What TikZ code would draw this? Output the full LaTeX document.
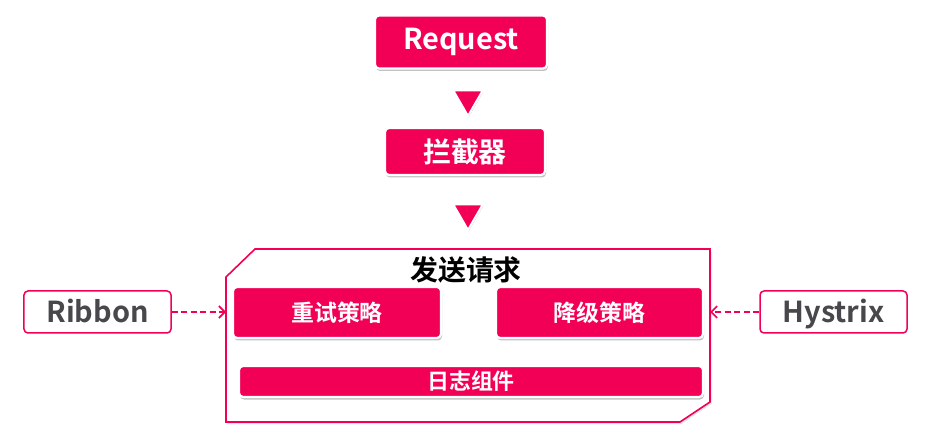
\documentclass[tikz,border=0pt]{standalone}
\usepackage{fontspec}
\setmainfont{Noto Sans CJK SC}[BoldFont={Noto Sans CJK SC Bold}]
\usetikzlibrary{shapes.geometric,arrows.meta,shadows}
\definecolor{hot}{RGB}{242,0,86}
\definecolor{txtgray}{RGB}{72,72,76}
\tikzset{
  redbox/.style={draw=white, line width=2.2bp, fill=hot, rounded corners=4bp,
    text=white, font=\bfseries, inner sep=0pt,
    drop shadow={shadow xshift=1bp, shadow yshift=-2.5bp, opacity=0.4, fill=black!60}},
  sidebox/.style={draw=hot, line width=1.5bp, fill=white, rounded corners=4bp,
    text=txtgray, font=\bfseries\fontsize{29}{32}\selectfont, inner sep=0pt,
    text height=28bp, text depth=6bp,
    minimum width=147bp, minimum height=42bp},
  tri/.style={regular polygon, regular polygon sides=3, shape border rotate=180,
    draw=white, line width=2bp, fill=hot, minimum size=34bp, inner sep=0pt,
    drop shadow={shadow xshift=0.6bp, shadow yshift=-1.5bp, opacity=0.3, fill=black!60}},
  dasharrow/.style={draw=hot, line width=1.6bp, dash pattern=on 6bp off 3.5bp,
    -{Straight Barb[length=6bp,width=12bp,line width=1.6bp]}}
}
\begin{document}
\begin{tikzpicture}[x=1bp,y=-1bp]
\useasboundingbox[fill=white] (0,0) rectangle (929,447);
% container
\path[draw=hot, line width=1.6bp, fill=white,
  drop shadow={shadow xshift=1.5bp, shadow yshift=-2bp, opacity=0.2, fill=black!50}]
  (255,249) -- (710,249) -- (710,402) -- (680,422) -- (226,422) -- (226,277) -- cycle;
\coordinate (cl) at (226,312);
\coordinate (cr) at (710,312);
\node[font=\bfseries\fontsize{28}{32}\selectfont, text=black] (title) at (466,270) {发送请求};
% top boxes
\node[redbox, minimum width=172bp, minimum height=53bp, font=\bfseries\fontsize{29}{32}\selectfont] (req) at (461,42) {Request};
\node[tri] (tri1) at (468,99) {};
\node[redbox, minimum width=160bp, minimum height=47bp, font=\bfseries\fontsize{28}{32}\selectfont] (lj) at (465,151.5) {拦截器};
\node[tri] (tri2) at (468,213) {};
% inner boxes
\node[redbox, minimum width=208bp, minimum height=51bp, font=\bfseries\fontsize{23}{27}\selectfont] (retry) at (337,312.5) {重试策略};
\node[redbox, minimum width=207bp, minimum height=51bp, font=\bfseries\fontsize{23}{27}\selectfont] (fallback) at (599.5,312.5) {降级策略};
\node[redbox, minimum width=464bp, minimum height=31bp, font=\bfseries\fontsize{22}{26}\selectfont] (log) at (471,381.5) {日志组件};
% side boxes
\node[sidebox] (ribbon) at (97.5,312) {Ribbon};
\node[sidebox] (hystrix) at (833.5,312) {Hystrix};
\draw[dasharrow] (ribbon.east) -- (cl);
\draw[dasharrow] (hystrix.west) -- (cr);
\end{tikzpicture}
\end{document}
